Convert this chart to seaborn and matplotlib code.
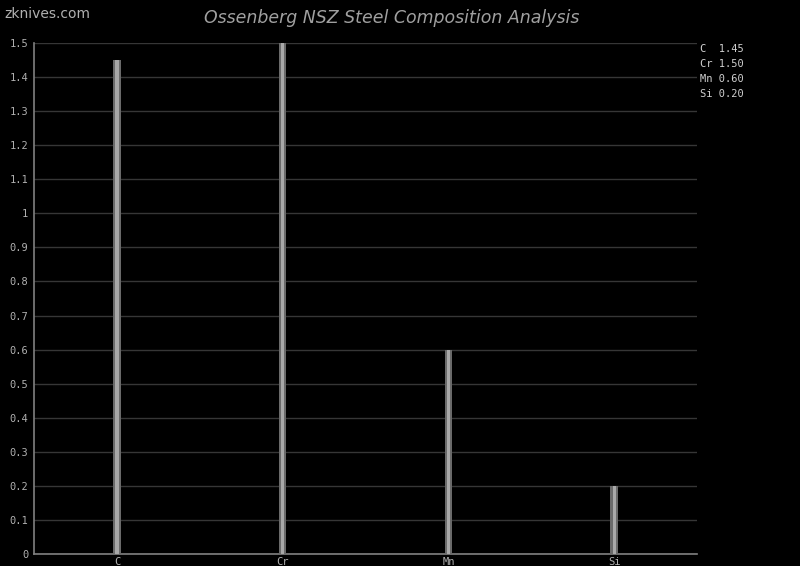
import matplotlib
matplotlib.use("Agg")
import matplotlib.pyplot as plt
import numpy as np
import pandas as pd
import seaborn as sns

elements = ['C', 'Cr', 'Mn', 'Si']
percent = [1.45, 1.50, 0.60, 0.20]
yticks = [0, 0.1, 0.2, 0.3, 0.4, 0.5, 0.6, 0.7, 0.8, 0.9, 1, 1.1, 1.2, 1.3, 1.4, 1.5]
ylabels = ['0', '0.1', '0.2', '0.3', '0.4', '0.5', '0.6', '0.7', '0.8', '0.9', '1',
           '1.1', '1.2', '1.3', '1.4', '1.5']

df = pd.DataFrame({'element': elements, 'percent': percent})

sns.set_style('dark')
plt.rcParams['font.family'] = ['DejaVu Sans']

fig = plt.figure(figsize=(8, 5.66), dpi=100, facecolor='black')
ax = fig.add_axes([0.0425, 0.0212, 0.8288, 0.9028])
ax.set_facecolor('black')

# bar with a lighter core
sns.barplot(data=df, x='element', y='percent', color='#6a6a6a', width=0.045,
            saturation=1, linewidth=0, ax=ax, zorder=3)
sns.barplot(data=df, x='element', y='percent', color='#a8a8a8', width=0.02,
            saturation=1, linewidth=0, ax=ax, zorder=4)

ax.set_ylim(0, 1.5)
ax.set_xlim(-0.5, 3.5)
ax.set_yticks(yticks)
ax.set_yticklabels(ylabels, family='DejaVu Sans Mono', fontsize=7.5, color='#b0b0b0')
ax.set_xticks(range(len(elements)))
ax.set_xticklabels(elements, family='DejaVu Sans Mono', fontsize=7.5, color='#b0b0b0')
ax.tick_params(axis='both', length=0, pad=4)
ax.tick_params(axis='x', pad=2)
ax.set_xlabel('')
ax.set_ylabel('')
ax.grid(axis='y', color='#363636', linewidth=1, zorder=0)
ax.grid(axis='x', visible=False)
for s in ['top', 'right']:
    ax.spines[s].set_visible(False)
for s in ['left', 'bottom']:
    ax.spines[s].set_visible(True)
    ax.spines[s].set_color('#808080')
    ax.spines[s].set_linewidth(1.2)

fig.text(0.49, 0.968, 'Ossenberg NSZ Steel Composition Analysis', ha='center', va='center',
         fontsize=12.5, style='italic', color='#a0a0a0')
fig.text(0.005, 0.975, 'zknives.com', ha='left', va='center', fontsize=10, color='#b0b0b0')

for i, (el, v) in enumerate(zip(elements, percent)):
    fig.text(0.875, 1 - (49 + 15 * i) / 566, f'{el:<2} {v:.2f}', ha='left', va='center',
             family='DejaVu Sans Mono', fontsize=7.5, color='#d0d0d0')

fig.savefig('out.png', dpi=100, facecolor='black')
